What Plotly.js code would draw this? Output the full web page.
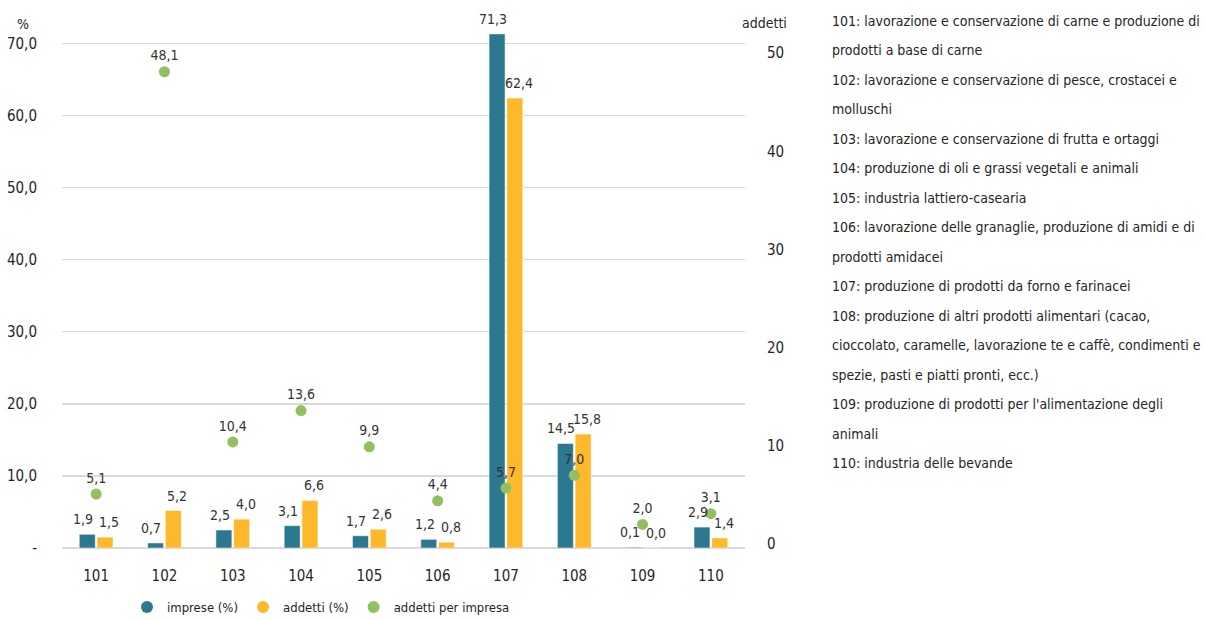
<!DOCTYPE html>
<html>
<head>
<meta charset="utf-8">
<script src="https://cdn.plot.ly/plotly-3.0.1.min.js"></script>
<style>
  html, body { margin: 0; padding: 0; background: #ffffff; }
  #chart { width: 1206px; height: 620px; }
</style>
</head>
<body>
<div id="chart"></div>
<script>
// Industry codes (ATECO 10.x)
const categories = ['101', '102', '103', '104', '105', '106', '107', '108', '109', '110'];

// Share of firms (%)
const imprese = [1.9, 0.7, 2.5, 3.1, 1.7, 1.2, 71.3, 14.5, 0.1, 2.9];
// Share of employees (%)
const addetti = [1.5, 5.2, 4.0, 6.6, 2.6, 0.8, 62.4, 15.8, 0.0, 1.4];
// Employees per firm
const addettiPerImpresa = [5.1, 48.1, 10.4, 13.6, 9.9, 4.4, 5.7, 7.0, 2.0, 3.1];

// Left axis ticks
const leftTickVals = [0, 10, 20, 30, 40, 50, 60, 70];
const leftTickText = ['-', '10,0', '20,0', '30,0', '40,0', '50,0', '60,0', '70,0'];
// Right axis ticks
const rightTickVals = [0, 10, 20, 30, 40, 50];

// Code descriptions, one entry per printed line
const descriptionLines = [
  '101: lavorazione e conservazione di carne e produzione di',
  'prodotti a base di carne',
  '102: lavorazione e conservazione di pesce, crostacei e',
  'molluschi',
  '103: lavorazione e conservazione di frutta e ortaggi',
  '104: produzione di oli e grassi vegetali e animali',
  '105: industria lattiero-casearia',
  '106: lavorazione delle granaglie, produzione di amidi e di',
  'prodotti amidacei',
  '107: produzione di prodotti da forno e farinacei',
  '108: produzione di altri prodotti alimentari (cacao,',
  'cioccolato, caramelle, lavorazione te e caffè, condimenti e',
  'spezie, pasti e piatti pronti, ecc.)',
  '109: produzione di prodotti per l\'alimentazione degli',
  'animali',
  '110: industria delle bevande'
];

const FONT = '"DejaVu Sans Condensed", "DejaVu Sans", sans-serif';
const BLUE = '#2D7891';
const ORANGE = '#FDB92B';
const GREEN = '#92BF5F';
const TEXT = '#262626';
const LABEL = '#333333';

// Italian number format with one decimal
const fmt = v => v.toFixed(1).replace('.', ',');

const traces = [
  {
    type: 'bar', x: categories, y: imprese, name: 'imprese (%)',
    marker: { color: BLUE, line: { color: '#ffffff', width: 0.5 } },
    showlegend: false, hoverinfo: 'skip'
  },
  {
    type: 'bar', x: categories, y: addetti, name: 'addetti (%)',
    marker: { color: ORANGE, line: { color: '#ffffff', width: 0.5 } },
    showlegend: false, hoverinfo: 'skip'
  },
  {
    type: 'scatter', mode: 'markers+text', x: categories, y: addettiPerImpresa,
    yaxis: 'y2', name: 'addetti per impresa',
    marker: { color: GREEN, size: 11 },
    texttemplate: '%{y:.1f}', textposition: 'top center', cliponaxis: false,
    textfont: { family: FONT, size: 14, color: LABEL },
    showlegend: false, hoverinfo: 'skip'
  },
  // Legend entries drawn as round markers
  { type: 'scatter', mode: 'markers', x: [null], y: [null], name: 'imprese (%)',
    marker: { color: BLUE, size: 12 }, hoverinfo: 'skip' },
  { type: 'scatter', mode: 'markers', x: [null], y: [null], name: 'addetti (%)',
    marker: { color: ORANGE, size: 12 }, hoverinfo: 'skip' },
  { type: 'scatter', mode: 'markers', x: [null], y: [null], name: 'addetti per impresa',
    marker: { color: GREEN, size: 12 }, hoverinfo: 'skip' }
];

const annotations = [];

// Value labels above each bar (category axis positions are serial indices),
// nudged apart so neighbouring labels do not collide
[[imprese, -13], [addetti, 13]].forEach(([values, shift]) => {
  values.forEach((v, i) => {
    annotations.push({
      xref: 'x', yref: 'y', x: i, y: v,
      xanchor: 'center', yanchor: 'bottom', xshift: shift, yshift: 5,
      showarrow: false, text: fmt(v),
      font: { family: FONT, size: 14, color: LABEL }
    });
  });
});

// Description block to the right of the plot
const descTop = 1.0 - (21 - 14) / 534;
const descStep = 29.47 / 534;
descriptionLines.forEach((line, i) => {
  annotations.push({
    xref: 'paper', yref: 'paper', x: (830 - 62) / 683, y: descTop - i * descStep,
    xanchor: 'left', yanchor: 'middle', showarrow: false, align: 'left',
    text: line, font: { family: FONT, size: 14, color: TEXT }
  });
});
// Axis unit labels
annotations.push({
  xref: 'paper', yref: 'paper', x: (23 - 62) / 683, y: (548 - 24) / 534,
  xanchor: 'center', yanchor: 'middle', showarrow: false,
  text: '%', font: { family: FONT, size: 14, color: TEXT }
});
annotations.push({
  xref: 'paper', yref: 'paper', x: (765 - 62) / 683, y: (548 - 23) / 534,
  xanchor: 'center', yanchor: 'middle', showarrow: false,
  text: 'addetti', font: { family: FONT, size: 14, color: TEXT }
});

const layout = {
  width: 1206, height: 620,
  margin: { l: 62, r: 461, t: 14, b: 72, pad: 0 },
  paper_bgcolor: '#ffffff', plot_bgcolor: '#ffffff',
  separators: ',.',
  font: { family: FONT, size: 15, color: TEXT },
  barmode: 'group', bargap: 0.48, bargroupgap: 0.1,
  showlegend: true,
  legend: {
    orientation: 'h', xref: 'paper', x: (321 - 62) / 683, xanchor: 'center',
    yref: 'container', y: (620 - 607) / 620, yanchor: 'middle',
    font: { family: FONT, size: 13, color: TEXT },
    itemwidth: 30, tracegroupgap: 0
  },
  xaxis: {
    type: 'category', range: [-0.5, 9.5], fixedrange: true,
    showgrid: false, showline: false, zeroline: false, ticks: '',
    tickfont: { family: FONT, size: 15, color: TEXT },
    ticklabelstandoff: 17
  },
  yaxis: {
    range: [0, 74.06], fixedrange: true,
    tickvals: leftTickVals, ticktext: leftTickText,
    showgrid: true, gridcolor: '#d9d9d9', gridwidth: 1.5,
    zeroline: true, zerolinecolor: '#d9d9d9', zerolinewidth: 1.5,
    showline: false, ticks: '',
    tickfont: { family: FONT, size: 15, color: TEXT },
    ticklabelstandoff: 24
  },
  yaxis2: {
    overlaying: 'y', side: 'right', range: [-0.4, 53.98], fixedrange: true,
    tickvals: rightTickVals, showgrid: false, zeroline: false, showline: false,
    ticks: '', tickfont: { family: FONT, size: 15, color: TEXT },
    ticklabelstandoff: 21
  },
  annotations: annotations
};

Plotly.newPlot('chart', traces, layout, { staticPlot: true, displayModeBar: false });
</script>
</body>
</html>
